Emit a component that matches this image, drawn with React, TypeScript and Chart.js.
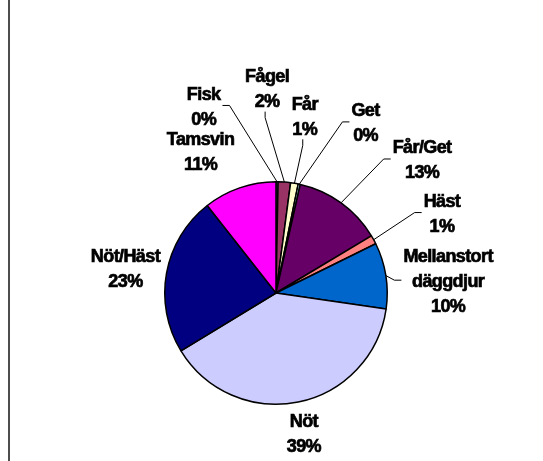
import React, { useEffect, useRef } from "react";
import { Chart, registerables } from "chart.js";

Chart.register(...registerables);

// ---- data ----
const categories = [
  "Fisk",
  "Fågel",
  "Får",
  "Get",
  "Får/Get",
  "Häst",
  "Mellanstort däggdjur",
  "Nöt",
  "Nöt/Häst",
  "Tamsvin",
];
const shares = [0.3, 1.8, 1.1, 0.3, 12.9, 1.3, 9.6, 39.0, 23.1, 10.6];
const sliceColors = [
  "#9999FF",
  "#993366",
  "#FFFFCC",
  "#CCFFFF",
  "#660066",
  "#FF8080",
  "#0066CC",
  "#CCCCFF",
  "#000080",
  "#FF00FF",
];

// ---- label layout (polar, relative to pie centre; distance in radii) ----
const labelAngleDeg = [338.7, 357.5, 9.3, 27.9, 47.9, 64.7, 86.4, 168.9, 279, 331.7];
const labelDistR = [1.79, 1.83, 1.6, 1.72, 1.77, 1.65, 1.55, 1.3, 1.37, 1.43];
const leaderKind = ["side", "bottom", "bottom", "side", "side", "side", "side", "none", "none", "none"];

const FONT = 'bold 18px "Liberation Sans", Arial, sans-serif';
const LINE_H = 25;

function wrap(ctx: CanvasRenderingContext2D, text: string, maxW: number): string[] {
  const words = text.split(" ");
  const out: string[] = [];
  let cur = "";
  for (const w of words) {
    const t = cur ? cur + " " + w : w;
    if (cur && ctx.measureText(t).width > maxW) {
      out.push(cur);
      cur = w;
    } else cur = t;
  }
  if (cur) out.push(cur);
  return out;
}

const labelPlugin = {
  id: "pieLabels",
  afterDraw(chart: any) {
    const meta = chart.getDatasetMeta(0);
    const ctx: CanvasRenderingContext2D = chart.ctx;
    const data: number[] = chart.data.datasets[0].data;
    const total = data.reduce((a, b) => a + b, 0);
    ctx.save();
    ctx.font = FONT;
    (ctx as any).letterSpacing = "-0.6px";
    ctx.fillStyle = "#000";
    ctx.strokeStyle = "#000";
    ctx.textAlign = "center";
    ctx.textBaseline = "middle";
    meta.data.forEach((arc: any, i: number) => {
      const p = arc.getProps(["x", "y", "outerRadius", "startAngle", "endAngle"], true);
      const a = ((labelAngleDeg[i] - 90) * Math.PI) / 180;
      const d = labelDistR[i] * p.outerRadius;
      const cx = p.x + d * Math.cos(a);
      const cy = p.y + d * Math.sin(a);
      const pct = Math.round((data[i] / total) * 100) + "%";
      const lines = [...wrap(ctx, chart.data.labels[i], 110), pct];
      const n = lines.length;
      let hw = 0;
      ctx.lineWidth = 0.7;
      lines.forEach((t, k) => {
        hw = Math.max(hw, ctx.measureText(t).width / 2);
        const ty = cy + (k - (n - 1) / 2) * LINE_H;
        ctx.fillText(t, cx, ty);
        ctx.strokeText(t, cx, ty);
      });
      ctx.lineWidth = 1;
      const hh = (n * LINE_H) / 2;
      const mid = (p.startAngle + p.endAngle) / 2;
      const ex = p.x + p.outerRadius * Math.cos(mid);
      const ey = p.y + p.outerRadius * Math.sin(mid);
      if (leaderKind[i] === "side") {
        const dir = cx > p.x ? -1 : 1;
        const sx = dir === -1 ? cx - hw - 2 : cx + hw + 2;
        const sy = cy - 2;
        ctx.beginPath();
        ctx.moveTo(sx, sy);
        ctx.lineTo(sx + dir * 7, sy);
        ctx.lineTo(ex, ey);
        ctx.stroke();
      } else if (leaderKind[i] === "bottom") {
        const sx = cx - 2;
        const sy = cy + hh - 3;
        ctx.beginPath();
        ctx.moveTo(sx, sy);
        ctx.lineTo(sx, sy + 6);
        ctx.lineTo(ex, ey);
        ctx.stroke();
      }
    });
    ctx.restore();
  },
};

export default function App() {
  const ref = useRef<HTMLCanvasElement>(null);
  useEffect(() => {
    document.body.style.margin = "0";
    const chart = new Chart(ref.current!, {
      type: "pie",
      data: {
        labels: categories,
        datasets: [
          {
            data: shares,
            backgroundColor: sliceColors,
            borderColor: "#000",
            borderWidth: 1.5,
          },
        ],
      },
      options: {
        responsive: false,
        animation: false,
        layout: { padding: { left: 164, right: 155, top: 181, bottom: 56 } },
        plugins: {
          legend: { display: false },
          tooltip: { enabled: false },
          title: { display: false },
        },
        events: [],
      },
      plugins: [labelPlugin],
    });
    return () => chart.destroy();
  }, []);
  return (
    <div style={{ position: "fixed", left: 0, top: 0, width: 543, height: 461, background: "#fff", overflow: "hidden" }}>
      <canvas ref={ref} width={543} height={461} style={{ position: "absolute", left: 0, top: 0 }} />
      <div style={{ position: "absolute", left: 8, top: 0, width: 2, height: 461, background: "#4d4d4d" }} />
    </div>
  );
}
